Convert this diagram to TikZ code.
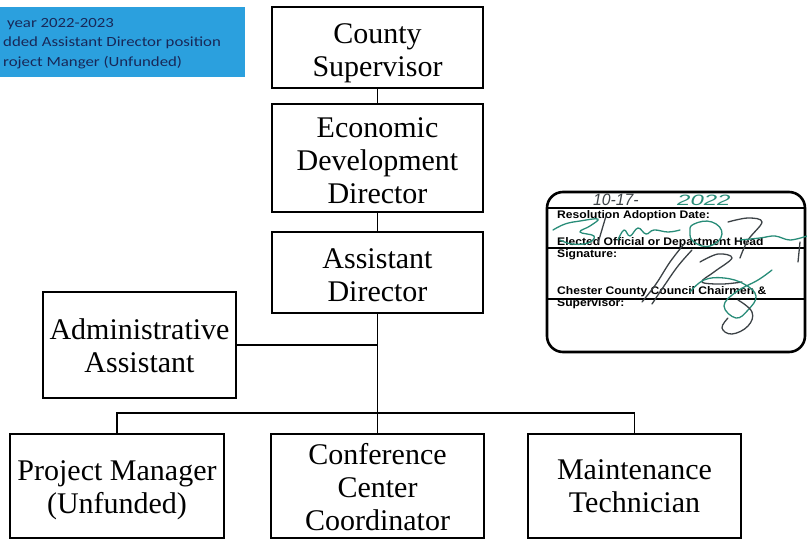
\documentclass[tikz,border=0pt]{standalone}
\usepackage{fontspec}
\setmainfont{Liberation Serif}
\newfontfamily\notefont{Carlito}
\newfontfamily\formfont{Liberation Sans}
\definecolor{notefill}{RGB}{43,160,222}
\definecolor{notetext}{RGB}{24,40,88}
\definecolor{inkteal}{RGB}{40,140,120}
\definecolor{inkdark}{RGB}{60,66,70}
\tikzset{
  x=1pt, y=-1pt,
  post/.style={draw, line width=1.5pt, align=center, inner sep=0pt,
    font=\fontsize{30}{33}\selectfont},
  link/.style={line width=1.5pt},
  formtext/.style={anchor=base west, inner sep=0pt, align=left,
    font=\formfont\bfseries\fontsize{11}{8.5}\selectfont},
  notetxt/.style={anchor=base west, inner sep=0pt, text=notetext,
    font=\notefont\fontsize{14}{15}\selectfont},
  hand/.style={anchor=base west, inner sep=0pt,
    font=\formfont\itshape\fontsize{15}{15}\selectfont},
  inkline/.style={line width=1.3pt, line cap=round, line join=round},
}
% strut on a first line: a taller strut sets the text block lower in its box
\newcommand\topstrut[1]{\rule{0pt}{#1pt}}
\newcommand\wide[1]{\scalebox{1.2}[1]{#1}}
\newcommand\formw[1]{\scalebox{1.1}[1]{#1}}
\begin{document}
\begin{tikzpicture}
\useasboundingbox (0,0) rectangle (807,539);
\clip (0,0) rectangle (807,539);

% revision note
\fill[notefill] (0,7) rectangle (245,77);
\node[notetxt] (n1) at (7,27) {\wide{year 2022-2023}};
\node[notetxt] (n2) at (3,46) {\wide{dded Assistant Director position}};
\node[notetxt] (n3) at (3,66) {\wide{roject Manger (Unfunded)}};

% positions
\node[post, minimum width=211, minimum height=81] (cs) at (377.5,47.5) {\topstrut{32}County\\Supervisor};
\node[post, minimum width=211, minimum height=108] (edd) at (377.5,158) {\topstrut{26}Economic\\Development\\Director};
\node[post, minimum width=211, minimum height=81] (ad) at (377.5,272.5) {\topstrut{26}Assistant\\Director};
\node[post, minimum width=193, minimum height=106] (adm) at (139.5,345) {\topstrut{22}Administrative\\Assistant};
\node[post, minimum width=214, minimum height=104] (pm) at (117,486) {\topstrut{28}Project Manager\\(Unfunded)};
\node[post, minimum width=213, minimum height=104] (cc) at (377.5,486) {\topstrut{24}Conference\\Center\\Coordinator};
\node[post, minimum width=213, minimum height=104] (mt) at (634.5,486) {\topstrut{21}Maintenance\\Technician};

% reporting lines
\coordinate (bus) at (377.5,413);
\draw[link] (cs.south) -- (edd.north);
\draw[link] (edd.south) -- (ad.north);
\draw[link] (ad.south) -- (cc.north);
\draw[link] (adm.east) -- (adm.east -| ad.south);
\draw[link] (pm.north) |- (bus) -| (mt.north);

% signature block
\node[draw, line width=2.6pt, rounded corners=16pt, minimum width=258, minimum height=160,
  inner sep=0pt] (sig) at (676,272) {};
\coordinate (r1) at (547,208);
\coordinate (r2) at (547,248);
\coordinate (r3) at (547,299);
\draw[line width=1.4pt] (r1) -- (r1 -| sig.east);
\draw[line width=1.4pt] (r2) -- (r2 -| sig.east);
\draw[line width=1.4pt] (r3) -- (r3 -| sig.east);
\node[formtext] (f1) at (557,218) {\formw{Resolution Adoption Date:}};
\node[formtext] (f2) at (557,257) {\formw{Elected Official or Department Head}\\\formw{Signature:}};
\node[formtext] (f3) at (557,306) {\formw{Chester County Council Chairmen \&}\\\formw{Supervisor:}};

% handwritten entries
\node[hand, text=inkdark] (date) at (593,205) {\scalebox{1.05}[1.1]{10-17-}};
\node[hand, text=inkteal] (year) at (677,205) {\scalebox{1.6}[1]{2022}};

\draw[inkline, inkteal] plot[smooth, tension=0.7] coordinates
  {(553,230) (565,224) (580,221) (598,219) (590,226) (580,232) (594,236) (588,243) (572,244) (560,240)};
\draw[inkline, inkdark] (606,216) -- (598,243);
\draw[inkline, inkteal] plot[smooth, tension=0.7] coordinates
  {(618,240) (624,230) (630,236) (638,228) (646,234) (654,230) (668,232) (680,230)};
\draw[inkline, inkteal] plot[smooth cycle, tension=0.8] coordinates
  {(694,224) (712,222) (722,234) (710,246) (694,242) (690,232)};
\draw[inkline, inkdark] plot[smooth, tension=0.6] coordinates
  {(728,222) (748,218) (762,222) (748,240) (740,258)};
\draw[inkline, inkteal] plot[smooth, tension=0.6] coordinates
  {(740,240) (760,238) (775,236) (790,240) (807,236)};
\draw[inkline, inkdark] plot[smooth, tension=0.6] coordinates
  {(642,302) (656,284) (670,262) (684,244)};
\draw[inkline, inkdark] plot[smooth, tension=0.6] coordinates
  {(652,304) (664,286) (678,266) (692,250)};
\draw[inkline, inkdark] plot[smooth, tension=0.6] coordinates
  {(700,262) (718,254) (732,258) (714,272) (702,282) (722,284) (742,282)};
\draw[inkline, inkteal] plot[smooth, tension=0.7] coordinates
  {(690,292) (704,280) (724,278) (744,284) (756,296) (748,310) (736,318) (724,306) (736,292) (758,280) (772,270)};
\draw[inkline, inkdark] plot[smooth, tension=0.7] coordinates
  {(738,300) (752,312) (748,326) (732,334) (722,328) (728,318)};
\draw[inkline, inkdark] (800,242) -- (798,262);
\end{tikzpicture}
\end{document}
